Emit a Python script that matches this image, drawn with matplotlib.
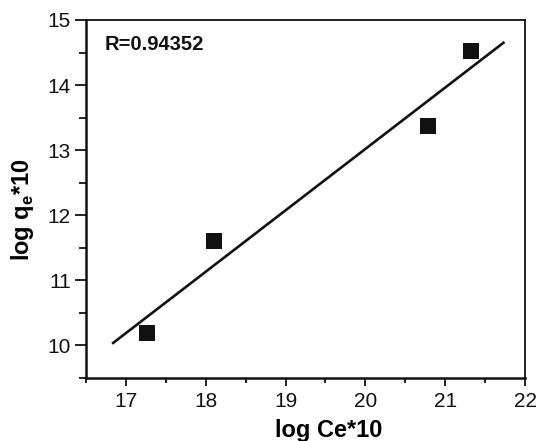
import numpy as np
import matplotlib
matplotlib.use("Agg")
import matplotlib.pyplot as plt
from matplotlib.ticker import MultipleLocator

plt.rcParams['font.family'] = ['Liberation Sans', 'DejaVu Sans']
plt.rcParams['mathtext.fontset'] = 'custom'
plt.rcParams['mathtext.rm'] = 'Liberation Sans'
plt.rcParams['mathtext.bf'] = 'Liberation Sans:bold'

# data
log_ce = [17.26, 18.10, 20.78, 21.32]
log_qe = [10.19, 11.60, 13.37, 14.52]
fit_range = [16.84, 21.73]
r_text = "R=0.94352"
x_ticks = [17, 18, 19, 20, 21, 22]
y_ticks = [10, 11, 12, 13, 14, 15]

fig = plt.figure(figsize=(5.37, 4.41), dpi=100)
ax = fig.add_axes([86/537, 1-378/441, (525-86)/537, (378-20)/441])

ax.plot(log_ce, log_qe, 's', color='#111111', markersize=11, markeredgewidth=0)
slope, intercept = np.polyfit(log_ce, log_qe, 1)
xf = np.array(fit_range)
ax.plot(xf, slope*xf + intercept, '-', color='#111111', linewidth=1.9)

ax.set_xlim(16.5, 22)
ax.set_ylim(9.5, 15)
ax.set_xticks(x_ticks)
ax.set_yticks(y_ticks)
ax.xaxis.set_minor_locator(MultipleLocator(0.5))
ax.yaxis.set_minor_locator(MultipleLocator(0.5))

ax.tick_params(axis='both', which='both', direction='out', top=False, right=False,
               labelsize=15, colors='#111111', width=1.3)
ax.tick_params(axis='x', which='major', length=6, pad=4)
ax.tick_params(axis='x', which='minor', length=3.5)
ax.tick_params(axis='y', which='major', length=8, pad=3)
ax.tick_params(axis='y', which='minor', length=5)

for s in ['left', 'bottom']:
    ax.spines[s].set_linewidth(1.8)
for s in ['top', 'right']:
    ax.spines[s].set_linewidth(1.3)
for s in ax.spines.values():
    s.set_color('#111111')

ax.set_xlabel('log Ce*10', fontsize=17, fontweight='bold')
ax.set_ylabel(r'log q$_\mathbf{e}$*10', fontsize=17, fontweight='bold')
ax.xaxis.set_label_coords(0.553, -0.115)
ax.yaxis.set_label_coords(-0.113, 0.47)

ax.text(0.043, 0.916, r_text, transform=ax.transAxes, fontsize=14.5, fontweight='bold',
        ha='left', va='baseline', color='#111111')

fig.savefig('out.png', dpi=100)
